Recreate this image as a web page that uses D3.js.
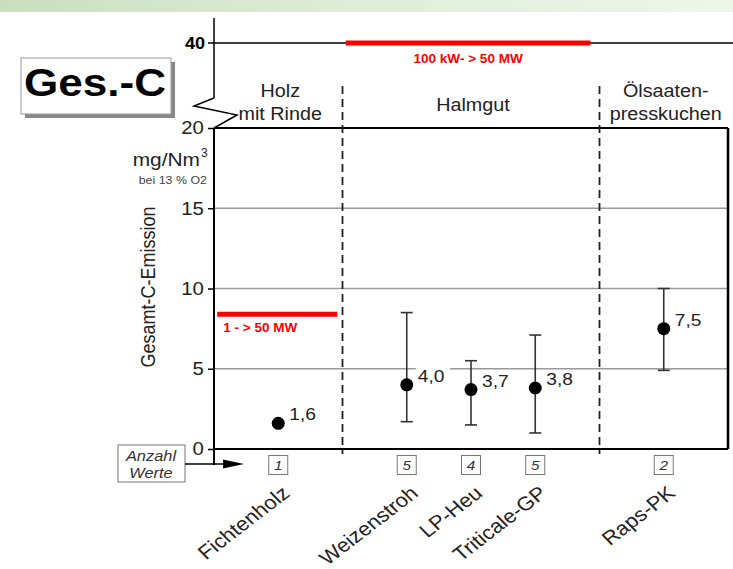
<!DOCTYPE html>
<html>
<head>
<meta charset="utf-8">
<script src="https://cdn.jsdelivr.net/npm/d3@7"></script>
<style>
  body { margin: 0; background: #fff; }
  svg { display: block; font-family: "Liberation Sans", Arial, Helvetica, sans-serif; }
</style>
</head>
<body>
<svg id="chart" width="733" height="569"></svg>
<script>
(function () {
  // Data.
  let categories = ["Fichtenholz", "Weizenstroh", "LP-Heu", "Triticale-GP", "Raps-PK"];
  let slots = [0, 2, 3, 4, 6];
  let means = [1.6, 4.0, 3.7, 3.8, 7.5];
  let lows = [null, 1.7, 1.5, 1.0, 4.9];
  let highs = [null, 8.5, 5.5, 7.1, 10.0];
  let counts = [1, 5, 4, 5, 2];
  let meanLabels = ["1,6", "4,0", "3,7", "3,8", "7,5"];
  let groups = [
    { lines: ["Holz", "mit Rinde"], from: -1, to: 1 },
    { lines: ["Halmgut"], from: 1, to: 5 },
    { lines: ["Ölsaaten-", "presskuchen"], from: 5, to: 7 },
  ];
  let yTicks = [0, 5, 10, 15, 20];
  let limits = [
    { value: 8.4, from: -0.95, to: 0.92, label: "1 - > 50 MW", upper: false },
    { value: 40, from: 1.05, to: 4.86, label: "100 kW- > 50 MW", upper: true },
  ];

  // Text in the original is a bit wide, so stretch it horizontally.
  const SX = 1.13;
  let svg = d3.select("#chart");

  function txt(parent, x, y, s, size, rot) {
    let t = parent.append("text")
      .attr("transform", `translate(${x},${y}) scale(${SX},1)` + (rot ? ` rotate(${rot})` : ""))
      .attr("font-size", size).attr("fill", "#222").text(s);
    return t;
  }

  // Faint green band at the top.
  let defs = svg.append("defs");
  let grad = defs.append("linearGradient").attr("id", "band");
  grad.append("stop").attr("offset", "0%").attr("stop-color", "#c9dfc0");
  grad.append("stop").attr("offset", "50%").attr("stop-color", "#dfeed8");
  grad.append("stop").attr("offset", "100%").attr("stop-color", "#eef6ea");
  svg.append("rect").attr("x", 0).attr("y", 0).attr("width", 733).attr("height", 12)
    .attr("fill", "url(#band)");

  // Scales.
  let x = d3.scaleLinear().domain([-1, 7]).range([214, 728]);
  let y = d3.scaleLinear().domain([0, 20]).range([449, 128]);
  let yUp = d3.scaleLinear().domain([30, 40]).range([128, 43]);

  // Grid lines.
  svg.append("g").selectAll("line").data([5, 10, 15]).enter().append("line")
    .attr("x1", x(-1)).attr("x2", x(7))
    .attr("y1", (d) => y(d)).attr("y2", (d) => y(d))
    .attr("stroke", "#9a9a9a").attr("stroke-width", 1.3);

  // Plot frame.
  svg.append("line").attr("x1", x(-1)).attr("x2", x(7)).attr("y1", y(20)).attr("y2", y(20))
    .attr("stroke", "#000").attr("stroke-width", 2);
  svg.append("line").attr("x1", x(-1)).attr("x2", x(7)).attr("y1", y(0)).attr("y2", y(0))
    .attr("stroke", "#000").attr("stroke-width", 2);
  svg.append("line").attr("x1", x(7)).attr("x2", x(7)).attr("y1", y(20)).attr("y2", y(0))
    .attr("stroke", "#000").attr("stroke-width", 2.5);

  // Left y axis.
  let yAxis = d3.axisLeft(y).tickValues(yTicks).tickSize(6).tickPadding(3);
  let ga = svg.append("g").attr("transform", `translate(${x(-1)},0)`).call(yAxis);
  ga.select(".domain").remove();
  ga.selectAll("line").attr("stroke", "#000").attr("stroke-width", 1.5);
  ga.selectAll("text").attr("font-size", 18).attr("fill", "#222")
    .attr("font-family", "Liberation Sans, Arial, sans-serif")
    .attr("transform", `scale(${SX},1)`);

  // Axis line with break.
  svg.append("line").attr("x1", x(-1)).attr("x2", x(-1)).attr("y1", y(0) + 16).attr("y2", y(20))
    .attr("stroke", "#000").attr("stroke-width", 2);
  svg.append("line").attr("x1", x(-1)).attr("x2", x(-1)).attr("y1", 98).attr("y2", 18)
    .attr("stroke", "#000").attr("stroke-width", 1.5);
  svg.append("path")
    .attr("d", d3.line()([[x(-1), 98], [x(-1) - 20, 106], [x(-1) + 23, 115], [x(-1), y(20)]]))
    .attr("fill", "none").attr("stroke", "#000").attr("stroke-width", 1.5);

  // Upper broken section: 40 line.
  svg.append("line").attr("x1", x(-1) - 6).attr("x2", 733).attr("y1", yUp(40)).attr("y2", yUp(40))
    .attr("stroke", "#000").attr("stroke-width", 1.3);
  txt(svg, x(-1) - 9, yUp(40) + 6, "40", 16).attr("text-anchor", "end")
    .attr("font-weight", "bold").attr("fill", "#000");

  // Group dividers.
  svg.append("g").selectAll("line").data([1, 5]).enter().append("line")
    .attr("x1", (d) => x(d)).attr("x2", (d) => x(d))
    .attr("y1", 86).attr("y2", y(0) + 5)
    .attr("stroke", "#222").attr("stroke-width", 1.8).attr("stroke-dasharray", "8,5");

  // Group headers.
  groups.forEach((g) => {
    let cx = (x(g.from) + x(g.to)) / 2 + 2;
    if (g.lines.length === 1) {
      txt(svg, cx, 111, g.lines[0], 17.5).attr("text-anchor", "middle");
    } else {
      g.lines.forEach((l, i) => {
        txt(svg, cx, 97 + i * 23, l, 17.5).attr("text-anchor", "middle");
      });
    }
  });

  // Limit lines.
  limits.forEach((l) => {
    let yy = l.upper ? yUp(l.value) : y(l.value);
    svg.append("line").attr("x1", x(l.from)).attr("x2", x(l.to)).attr("y1", yy).attr("y2", yy)
      .attr("stroke", "#f00").attr("stroke-width", 5);
    let t;
    if (l.upper) {
      t = txt(svg, (x(l.from) + x(l.to)) / 2, yy + 20, l.label, 12).attr("text-anchor", "middle");
    } else {
      t = txt(svg, x(l.from) + 6, yy + 18, l.label, 12);
    }
    t.attr("fill", "#f00").attr("font-weight", "bold");
  });

  // Error bars.
  let eb = svg.append("g").selectAll("g")
    .data(categories.map((c, i) => i).filter((i) => lows[i] !== null))
    .enter().append("g").attr("stroke", "#333").attr("stroke-width", 1.6);
  eb.append("line").attr("x1", (i) => x(slots[i])).attr("x2", (i) => x(slots[i]))
    .attr("y1", (i) => y(lows[i])).attr("y2", (i) => y(highs[i]));
  eb.append("line").attr("x1", (i) => x(slots[i]) - 6).attr("x2", (i) => x(slots[i]) + 6)
    .attr("y1", (i) => y(lows[i])).attr("y2", (i) => y(lows[i]));
  eb.append("line").attr("x1", (i) => x(slots[i]) - 6).attr("x2", (i) => x(slots[i]) + 6)
    .attr("y1", (i) => y(highs[i])).attr("y2", (i) => y(highs[i]));

  // Mean points and labels (labels sit on a white patch that hides the grid).
  svg.append("g").selectAll("circle").data(means).enter().append("circle")
    .attr("cx", (d, i) => x(slots[i])).attr("cy", (d) => y(d)).attr("r", 6.5).attr("fill", "#000");
  let lg = svg.append("g");
  means.forEach((d, i) => {
    let lx = x(slots[i]) + 11, ly = y(d) - 3;
    lg.append("rect").attr("x", lx - 2).attr("y", ly - 15).attr("width", 34).attr("height", 17)
      .attr("fill", "#fff");
    txt(lg, lx, ly, meanLabels[i], 17);
  });

  // Count boxes.
  let cb = svg.append("g").selectAll("g").data(counts).enter().append("g")
    .attr("transform", (d, i) => `translate(${x(slots[i])},465)`);
  cb.append("rect").attr("x", -9.5).attr("y", -9.5).attr("width", 19).attr("height", 19)
    .attr("fill", "#fff").attr("stroke", "#777").attr("stroke-width", 1);
  cb.append("text").attr("text-anchor", "middle").attr("dy", "0.36em")
    .attr("transform", `scale(${SX},1)`)
    .attr("font-size", 13.5).attr("font-style", "italic").attr("fill", "#333").text((d) => d);

  // Category labels.
  let cl = svg.append("g");
  categories.forEach((c, i) => {
    txt(cl, x(slots[i]) + 2, 484, c, 19.5, -41).attr("text-anchor", "end").attr("dy", "0.75em");
  });

  // "Anzahl Werte" box and arrow.
  svg.append("rect").attr("x", 118).attr("y", 445).attr("width", 67).attr("height", 37)
    .attr("fill", "#fff").attr("stroke", "#777").attr("stroke-width", 1);
  txt(svg, 151, 461, "Anzahl", 14.5).attr("text-anchor", "middle").attr("font-style", "italic").attr("fill", "#333");
  txt(svg, 151, 478, "Werte", 14.5).attr("text-anchor", "middle").attr("font-style", "italic").attr("fill", "#333");
  svg.append("line").attr("x1", 185).attr("x2", 226).attr("y1", 464).attr("y2", 464)
    .attr("stroke", "#000").attr("stroke-width", 1.5);
  svg.append("path").attr("d", "M223,459.5 L244,464 L223,468.5 Z").attr("fill", "#000");

  // Y axis title and units.
  txt(svg, 155, 287, "Gesamt-C-Emission", 18, -90).attr("text-anchor", "middle");
  let unit = txt(svg, 200, 166, "", 18.5).attr("text-anchor", "end");
  unit.append("tspan").text("mg/Nm");
  svg.append("text").attr("x", 201).attr("y", 157).attr("font-size", 12).attr("fill", "#222").text("3");
  txt(svg, 207, 184, "bei 13 % O2", 11).attr("text-anchor", "end").attr("fill", "#444");

  // Title box with shadow.
  svg.append("rect").attr("x", 25).attr("y", 62).attr("width", 150).attr("height", 56).attr("fill", "#888");
  svg.append("rect").attr("x", 21).attr("y", 58).attr("width", 150).attr("height", 56)
    .attr("fill", "#fff").attr("stroke", "#999").attr("stroke-width", 1);
  txt(svg, 95, 96, "Ges.-C", 39).attr("text-anchor", "middle")
    .attr("font-weight", "bold").attr("fill", "#000");
})();
</script>
</body>
</html>
